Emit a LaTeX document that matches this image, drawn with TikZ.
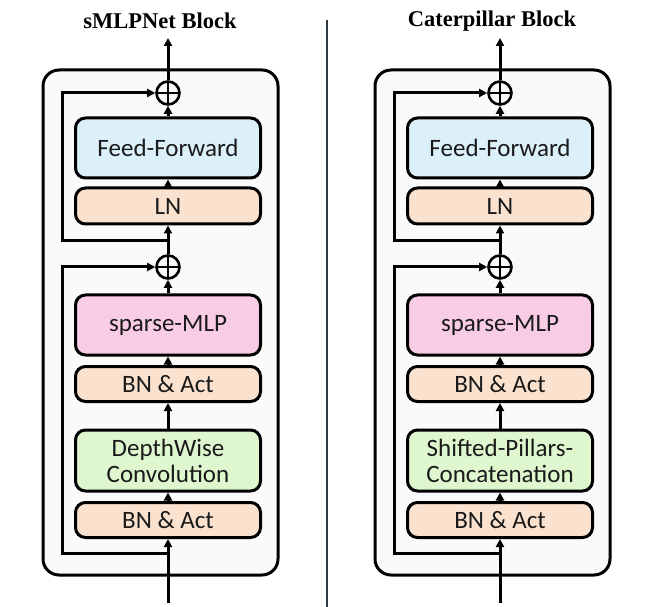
\documentclass[tikz,border=0pt]{standalone}
\usepackage{fontspec}
\setmainfont{Carlito}
\newfontfamily\titlefont{Liberation Serif}
\usetikzlibrary{arrows.meta}
\definecolor{ffblue}{HTML}{DCF0FA}
\definecolor{lnorange}{HTML}{FBE2CF}
\definecolor{mlppink}{HTML}{F9CCE6}
\definecolor{dwgreen}{HTML}{DEF7CF}
\definecolor{outerfill}{HTML}{FAFAFA}
\definecolor{divgray}{HTML}{2E3A40}
\definecolor{txt}{HTML}{1A1A1A}
\tikzset{
  blk/.style={draw=black, line width=3pt, rounded corners=10pt, minimum width=185pt, inner sep=0pt, align=center,
    text=txt, font=\fontsize{25}{26}\selectfont},
  outerbox/.style={draw=black, line width=3pt, rounded corners=16pt, fill=outerfill},
  flow/.style={line width=3pt, -{Triangle[length=8pt,width=8pt]}},
  addop/.style={circle, draw=black, line width=2.6pt, minimum size=23pt, inner sep=0pt,
    path picture={\draw[line width=2.4pt] (path picture bounding box.north) -- (path picture bounding box.south)
      (path picture bounding box.west) -- (path picture bounding box.east);}},
  ttl/.style={font=\titlefont\bfseries\fontsize{22.5}{26}\selectfont}
}
\newcommand\blockpanel[4]{%
\begin{scope}[xshift=#2]
  \draw[outerbox] (43,70) rectangle (278,575);
  \node[ttl] (#1title) at (160,21) {#3};
  \coordinate (#1out) at (168,38);
  \coordinate (#1in) at (168,603);
  \node[addop] (#1add2) at (168,93) {};
  \node[blk, fill=ffblue, minimum height=60pt] (#1ff) at (168,148) {Feed-Forward};
  \node[blk, fill=lnorange, minimum height=36pt] (#1ln) at (168,206) {LN};
  \coordinate (#1split2) at (168,241);
  \node[addop] (#1add1) at (168,267) {};
  \node[blk, fill=mlppink, minimum height=60pt] (#1mlp) at (168,325) {sparse-MLP};
  \node[blk, fill=lnorange, minimum height=35pt] (#1bna) at (168,384) {BN \& Act};
  \node[blk, fill=dwgreen, minimum height=61pt] (#1dw) at (168,460.5) {#4};
  \node[blk, fill=lnorange, minimum height=35pt] (#1bnb) at (168,520) {BN \& Act};
  \coordinate (#1split1) at (168,553);
  \coordinate (#1skipa) at (62,553);
  \coordinate (#1skipb) at (62,241);
  \draw[flow] (#1in) -- (#1bnb.south);
  \draw[flow] (#1bnb.north) -- (#1dw.south);
  \draw[flow] (#1dw.north) -- (#1bna.south);
  \draw[flow] (#1bna.north) -- (#1mlp.south);
  \draw[flow] (#1mlp.north) -- (#1add1.south);
  \draw[flow] (#1add1.north) -- (#1ln.south);
  \draw[flow] (#1ln.north) -- (#1ff.south);
  \draw[flow] (#1ff.north) -- (#1add2.south);
  \draw[flow] (#1add2.north) -- (#1out);
  \draw[flow, line join=miter] (#1split1) -- (#1skipa) |- (#1add1.west);
  \draw[flow, line join=miter] (#1split2) -- (#1skipb) |- (#1add2.west);
\end{scope}}
\begin{document}
\begin{tikzpicture}[x=1pt,y=-1pt]
\useasboundingbox (0,0) rectangle (665,607);
\blockpanel{L}{0pt}{sMLPNet Block}{DepthWise\\Convolution}
\blockpanel{R}{332pt}{Caterpillar Block}{Shifted-Pillars-\\Concatenation}
\coordinate (divtop) at (327,20);
\coordinate (divbot) at (327,607);
\draw[divgray, line width=2.8pt] (divtop) -- (divbot);
\end{tikzpicture}
\end{document}
